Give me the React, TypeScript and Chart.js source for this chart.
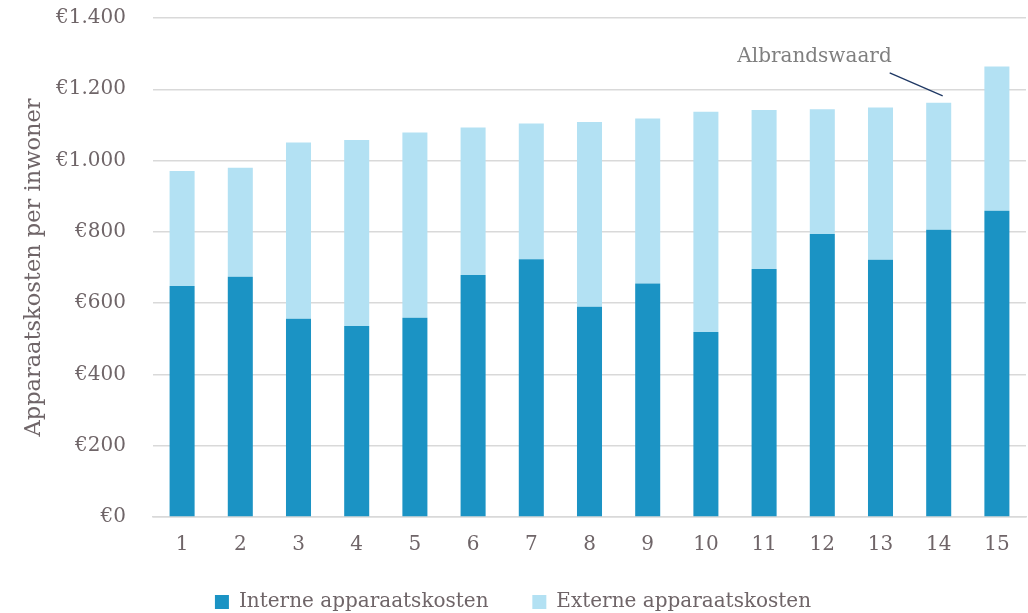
import React, { useEffect, useRef } from "react";
import { Chart, registerables } from "chart.js";

Chart.register(...registerables);

const categories = ["1", "2", "3", "4", "5", "6", "7", "8", "9", "10", "11", "12", "13", "14", "15"];
const interne = [648, 674, 556, 536, 559, 679, 723, 590, 655, 519, 696, 794, 722, 806, 859];
const externe = [323, 306, 495, 522, 520, 414, 381, 518, 463, 618, 446, 350, 427, 356, 405];
const legendLabels = ["Interne apparaatskosten", "Externe apparaatskosten"];
const annotationLabel = "Albrandswaard";
const annotationIndex = 13;
const yTitle = "Apparaatskosten per inwoner";

const FONT = "'DejaVu Serif', serif";
const TEXT = "#6f6568";

const annotationPlugin = {
  id: "albAnnot",
  afterDatasetsDraw(chart: any) {
    const { ctx, scales } = chart;
    const x = scales.x.getPixelForValue(annotationIndex);
    const total = interne[annotationIndex] + externe[annotationIndex];
    const yTop = scales.y.getPixelForValue(total);
    ctx.save();
    ctx.strokeStyle = "#1f3864";
    ctx.lineWidth = 1.3;
    ctx.beginPath();
    ctx.moveTo(x + 4, yTop - 7);
    ctx.lineTo(x - 49, yTop - 30);
    ctx.stroke();
    ctx.fillStyle = "#7f7f7f";
    ctx.font = "20px " + FONT;
    ctx.textAlign = "right";
    ctx.textBaseline = "middle";
    ctx.fillText(annotationLabel, x - 47, yTop - 46);
    ctx.restore();
  },
};

export default function App() {
  const ref = useRef<HTMLCanvasElement>(null);
  useEffect(() => {
    document.body.style.margin = "0";
    const chart = new Chart(ref.current!, {
      type: "bar",
      data: {
        labels: categories,
        datasets: [
          {
            label: legendLabels[0] + "     ",
            data: interne,
            backgroundColor: "#1b93c4",
            barPercentage: 0.43,
            categoryPercentage: 1,
          },
          {
            label: legendLabels[1],
            data: externe,
            backgroundColor: "#b3e1f3",
            barPercentage: 0.43,
            categoryPercentage: 1,
          },
        ],
      },
      options: {
        animation: false,
        responsive: false,
        maintainAspectRatio: false,
        layout: { padding: { top: 18, right: 2, left: 0, bottom: -9 } },
        plugins: {
          legend: {
            position: "bottom",
            labels: {
              color: TEXT,
              font: { family: FONT, size: 20 },
              boxWidth: 14,
              boxHeight: 14,
              padding: 12,
            },
          },
          tooltip: { enabled: false },
        },
        scales: {
          x: {
            stacked: true,
            grid: { display: false },
            border: { color: "#d9d9d9", width: 1.5 },
            ticks: { color: TEXT, font: { family: FONT, size: 20 }, padding: 8 },
            afterFit: (s: any) => {
              s.height = 63;
            },
          },
          y: {
            stacked: true,
            min: 0,
            max: 1400,
            grid: {
              color: "#d9d9d9",
              lineWidth: 1.5,
              drawTicks: true,
              tickLength: 27,
              tickColor: "rgba(0,0,0,0)",
            },
            border: { display: false },
            ticks: {
              stepSize: 200,
              color: TEXT,
              font: { family: FONT, size: 20 },
              padding: 0,
              callback: (v: any) => "€" + Number(v).toLocaleString("nl-NL"),
            },
            title: {
              display: true,
              text: yTitle,
              color: TEXT,
              font: { family: FONT, size: 22.5 },
              padding: { top: 21, bottom: 0 },
            },
            afterFit: (s: any) => {
              s.width = 153;
            },
          },
        },
      },
      plugins: [annotationPlugin],
    } as any);
    return () => chart.destroy();
  }, []);
  return (
    <div style={{ position: "absolute", left: 0, top: 0, width: 1028, height: 613 }}>
      <canvas ref={ref} width={1028} height={613} style={{ width: 1028, height: 613 }} />
    </div>
  );
}
